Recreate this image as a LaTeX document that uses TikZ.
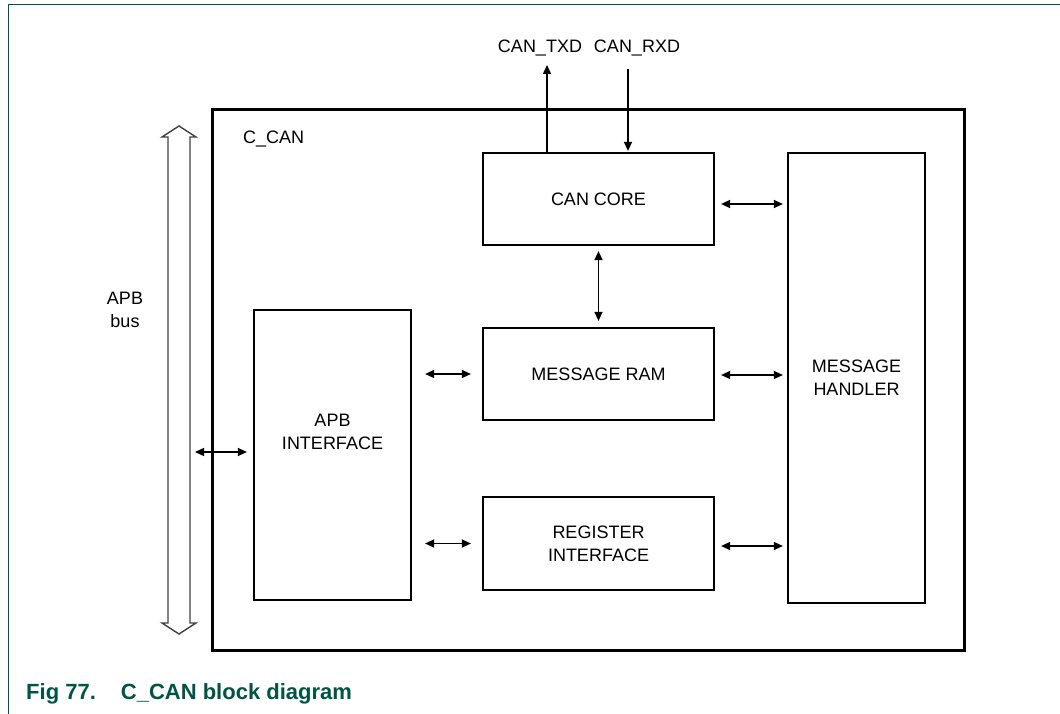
\documentclass[tikz,border=0pt]{standalone}
\usepackage{fontspec}
\setmainfont{Liberation Sans}
\usetikzlibrary{arrows.meta,calc}
\definecolor{nxpgreen}{RGB}{0,84,68}

\begin{document}
\begin{tikzpicture}[x=1pt,y=-1pt,>={Triangle[length=9pt,width=8pt]},
  every node/.style={font=\fontsize{18}{23}\selectfont,align=center,inner sep=0pt},
  blk/.style={draw,line width=2.2pt},
  link/.style={<->,line width=1.4pt}]
\useasboundingbox (0,0) rectangle (1060,714);
\draw[nxpgreen,line width=1.6pt] (8.5,714)--(8.5,4.5)--(1060,4.5);
% C_CAN frame and blocks
\node[draw,line width=3pt,minimum width=752pt,minimum height=540pt] (ccan) at (588,380){};
\node[anchor=west] (ccanlbl) at (243,139){C\_CAN};
\node[blk,minimum width=231pt,minimum height=92pt] (core) at (598.5,199){CAN CORE};
\node[blk,minimum width=231pt,minimum height=92pt] (ram) at (598.5,374){MESSAGE RAM};
\node[blk,minimum width=231pt,minimum height=93pt] (reg) at (598.5,543.5){REGISTER\\INTERFACE};
\node[blk,minimum width=157pt,minimum height=290pt] (apbif) at (332.5,455){};
\node (apbiflbl) at ($(apbif)+(0,-23)$){APB\\INTERFACE};
\node[blk,minimum width=137pt,minimum height=450pt] (handler) at (856.5,378){MESSAGE\\HANDLER};
% APB bus
\draw[line width=1.4pt,black!75] (168,137)--(162,137)--(179,126)--(196,137)--(190,137)--(190,623)--(196,623)--(179,634)--(162,623)--(168,623)--cycle;
\node (buslbl) at (125,310){APB\\bus};
\coordinate (bus) at (190,452);
\draw[link,shorten <=5pt,shorten >=6pt] (bus)--(bus -| apbif.west);
% links
\draw[link,shorten <=13pt,shorten >=11pt] (apbif.east |- ram)--(ram.west);
\draw[link,shorten <=13pt,shorten >=11pt] (apbif.east |- reg)--(reg.west);
\draw[link,shorten <=6pt,shorten >=4pt] ([yshift=-5pt]core.east)--([yshift=-5pt]core.east -| handler.west);
\draw[link,shorten <=6pt,shorten >=4pt] ([yshift=-1pt]ram.east)--([yshift=-1pt]ram.east -| handler.west);
\draw[link,shorten <=6pt,shorten >=4pt] ([yshift=-2.5pt]reg.east)--([yshift=-2.5pt]reg.east -| handler.west);
\draw[link,shorten <=5pt,shorten >=6pt] (core.south)--(ram.north);
% CAN pins
\node (txd) at (540,48){CAN\_TXD};
\node (rxd) at (637,48){CAN\_RXD};
\coordinate (txdend) at (547,65);
\coordinate (rxdstart) at (628,69);
\draw[->,line width=1.4pt] (core.north -| txdend)--(txdend);
\draw[->,line width=1.4pt,shorten >=1pt] (rxdstart)--(core.north -| rxdstart);
% caption
\node[anchor=west,font=\fontsize{22}{26}\selectfont\bfseries,text=nxpgreen] (cap) at (26,694){Fig 77.\hspace{25pt}C\_CAN block diagram};
\end{tikzpicture}
\end{document}
